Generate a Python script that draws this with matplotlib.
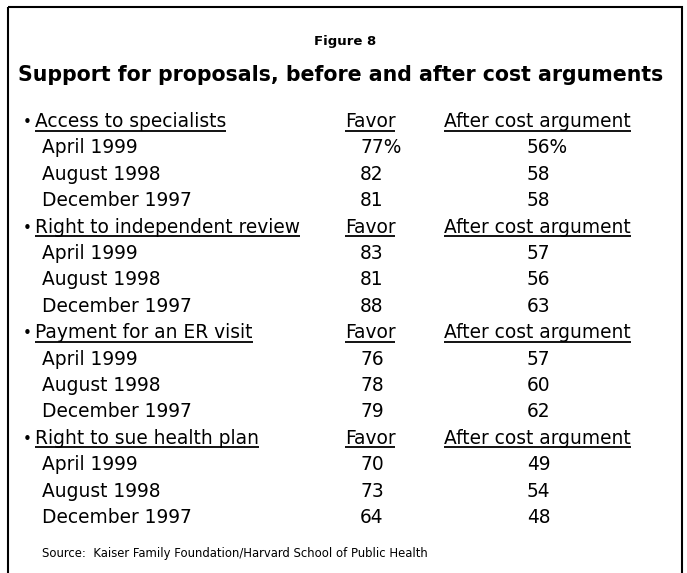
import matplotlib
matplotlib.use("Agg")
import matplotlib.pyplot as plt
from matplotlib.patches import Rectangle

plt.rcParams['font.family'] = ['DejaVu Sans']

# data
proposals = ["Access to specialists", "Right to independent review",
             "Payment for an ER visit", "Right to sue health plan"]
dates = ["April 1999", "August 1998", "December 1997"]
favor = [[77, 82, 81], [83, 81, 88], [76, 78, 79], [70, 73, 64]]
after_cost = [[56, 58, 58], [57, 56, 63], [57, 60, 62], [49, 54, 48]]
col_headers = ["Favor", "After cost argument"]

W, H = 687, 573
fig = plt.figure(figsize=(W / 100, H / 100), dpi=100)
ax = fig.add_axes([0, 0, 1, 1])
ax.set_xlim(0, W)
ax.set_ylim(H, 0)
ax.axis("off")

# frame, open at the bottom
ax.add_patch(Rectangle((8, 7), 674, 600, fill=False, lw=1.5, ec="black"))

ax.text(345, 41, "Figure 8", ha="center", va="center", fontsize=9.5, fontweight="bold")
ax.text(18, 75, "Support for proposals, before and after cost arguments",
        ha="left", va="center", fontsize=14.8, fontweight="bold")

fs = 13.4
x_bullet, x_head, x_date = 27, 35, 42
x_favor_head, x_after_head = 370, 537.5
x_favor_num, x_after_num = 360, 527
y0, dy = 127, 26.4   # baselines
underlined = []

y = y0
for g, name in enumerate(proposals):
    ax.text(x_bullet, y, "\u2022", ha="center", va="baseline", fontsize=fs * 0.8)
    underlined.append(ax.text(x_head, y, name, ha="left", va="baseline", fontsize=fs))
    underlined.append(ax.text(x_favor_head, y, col_headers[0], ha="center", va="baseline", fontsize=fs))
    underlined.append(ax.text(x_after_head, y, col_headers[1], ha="center", va="baseline", fontsize=fs))
    for i, d in enumerate(dates):
        y += dy
        pct = "%" if (g == 0 and i == 0) else ""
        ax.text(x_date, y, d, ha="left", va="baseline", fontsize=fs)
        ax.text(x_favor_num, y, f"{favor[g][i]}{pct}", ha="left", va="baseline", fontsize=fs)
        ax.text(x_after_num, y, f"{after_cost[g][i]}{pct}", ha="left", va="baseline", fontsize=fs)
    y += dy

ax.text(42, 554, "Source:  Kaiser Family Foundation/Harvard School of Public Health",
        ha="left", va="center", fontsize=8.4)

# underline the header texts
fig.canvas.draw()
r = fig.canvas.get_renderer()
inv = ax.transData.inverted()
for t in underlined:
    bb = t.get_window_extent(r)
    xa = inv.transform((bb.x0, 0))[0]
    xb = inv.transform((bb.x1, 0))[0]
    yb = t.get_position()[1] + 3.5
    ax.plot([xa, xb], [yb, yb], color="black", lw=1.3, solid_capstyle="butt")

fig.savefig("out.png", dpi=100)
